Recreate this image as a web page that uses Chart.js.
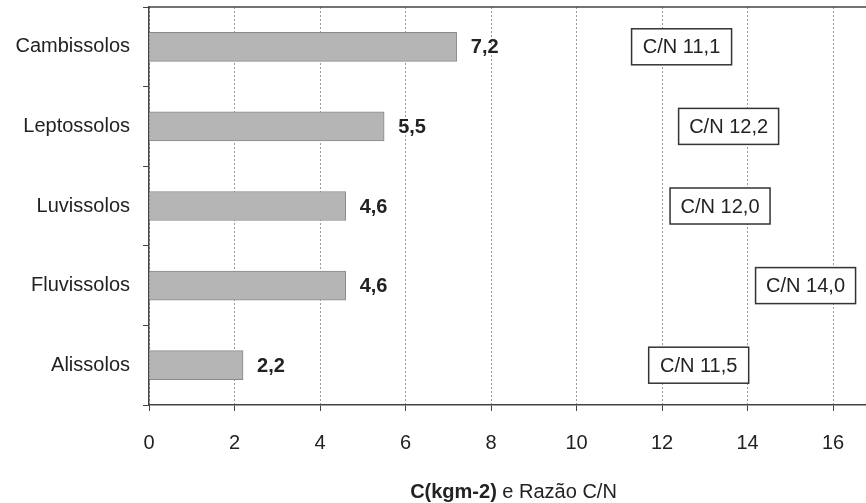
<!DOCTYPE html>
<html>
<head>
<meta charset="utf-8">
<script src="https://cdn.jsdelivr.net/npm/chart.js@4/dist/chart.umd.min.js"></script>
<style>
  html, body { margin: 0; padding: 0; background: #fff; }
  #wrap { width: 866px; height: 503px; }
</style>
</head>
<body>
<div id="wrap"><canvas id="c" width="866" height="503"></canvas></div>
<script>
const categories = ["Cambissolos", "Leptossolos", "Luvissolos", "Fluvissolos", "Alissolos"];
const carbonValues = [7.2, 5.5, 4.6, 4.6, 2.2];
const carbonLabels = ["7,2", "5,5", "4,6", "4,6", "2,2"];
const cnValues = [11.1, 12.2, 12.0, 14.0, 11.5];
const cnLabels = ["C/N 11,1", "C/N 12,2", "C/N 12,0", "C/N 14,0", "C/N 11,5"];
const xTickValues = [0, 2, 4, 6, 8, 10, 12, 14, 16];
const axisTitleBold = "C(kgm-2)";
const axisTitleRest = " e Razão C/N";

const FONT = "'Liberation Sans', Arial, sans-serif";
const INK = "#222";

const extrasPlugin = {
  id: "extras",
  afterDatasetsDraw(chart) {
    const ctx = chart.ctx;
    const xs = chart.scales.x, ys = chart.scales.y;
    const area = chart.chartArea;
    ctx.save();
    // top frame line
    ctx.strokeStyle = "#444";
    ctx.lineWidth = 1.5;
    ctx.beginPath();
    ctx.moveTo(area.left, area.top);
    ctx.lineTo(area.right, area.top);
    ctx.stroke();

    // value labels
    const meta = chart.getDatasetMeta(0);
    ctx.font = "bold 20px " + FONT;
    ctx.fillStyle = INK;
    ctx.textBaseline = "middle";
    ctx.textAlign = "left";
    meta.data.forEach((bar, i) => {
      ctx.fillText(carbonLabels[i], bar.x + 14, bar.y + 1);
    });

    // C/N boxes
    ctx.font = "20px " + FONT;
    cnValues.forEach((v, i) => {
      const x = xs.getPixelForValue(v) + 8;
      const y = ys.getPixelForValue(i);
      const w = 100, h = 36;
      ctx.fillStyle = "#fff";
      ctx.fillRect(x, y - h / 2, w, h);
      ctx.strokeStyle = "#333";
      ctx.lineWidth = 1.5;
      ctx.strokeRect(x, y - h / 2, w, h);
      ctx.fillStyle = INK;
      ctx.textAlign = "center";
      ctx.fillText(cnLabels[i], x + w / 2, y + 1);
    });

    // axis title (mixed weight)
    const boldFont = "bold 20px " + FONT, normFont = "20px " + FONT;
    ctx.font = boldFont;
    const w1 = ctx.measureText(axisTitleBold).width;
    ctx.font = normFont;
    const w2 = ctx.measureText(axisTitleRest).width;
    const cx = (area.left + area.right) / 2 + 6;
    let sx = cx - (w1 + w2) / 2;
    const ty = 492;
    ctx.textAlign = "left";
    ctx.fillStyle = INK;
    ctx.font = boldFont;
    ctx.fillText(axisTitleBold, sx, ty);
    ctx.font = normFont;
    ctx.fillText(axisTitleRest, sx + w1, ty);
    ctx.restore();
  }
};

new Chart(document.getElementById("c"), {
  type: "bar",
  data: {
    labels: categories,
    datasets: [{
      data: carbonValues,
      backgroundColor: "#b5b5b5",
      borderColor: "#8a8a8a",
      borderWidth: 1,
      barThickness: 29
    }]
  },
  options: {
    indexAxis: "y",
    responsive: false,
    animation: false,
    devicePixelRatio: 1,
    layout: { padding: { top: 7, right: 0, left: 0, bottom: 0 } },
    plugins: {
      legend: { display: false },
      tooltip: { enabled: false },
      title: { display: false }
    },
    scales: {
      x: {
        type: "linear",
        min: 0,
        max: 16.77,
        afterFit(scale) { scale.height = 98; scale.paddingLeft = 0; scale.paddingRight = 0; },
        afterBuildTicks(scale) { scale.ticks = xTickValues.map(v => ({ value: v })); },
        ticks: {
          stepSize: 2,
          includeBounds: false,
          color: INK,
          font: { family: FONT, size: 20 },
          padding: 20,
          maxRotation: 0
        },
        grid: {
          color: "#9a9a9a",
          lineWidth: 1,
          drawTicks: true,
          tickLength: 6,
          tickColor: "#444",
          tickBorderDash: []
        },
        border: { display: true, color: "#444", width: 1.5, dash: [2, 2] }
      },
      y: {
        type: "category",
        afterFit(scale) { scale.width = 149; scale.paddingTop = 0; scale.paddingBottom = 0; },
        ticks: {
          color: INK,
          font: { family: FONT, size: 20 },
          padding: 13
        },
        grid: {
          drawOnChartArea: false,
          drawTicks: true,
          tickLength: 6,
          color: "#444",
          tickColor: "#444"
        },
        border: { display: true, color: "#444", width: 1.5 }
      }
    }
  },
  plugins: [extrasPlugin]
});
</script>
</body>
</html>
